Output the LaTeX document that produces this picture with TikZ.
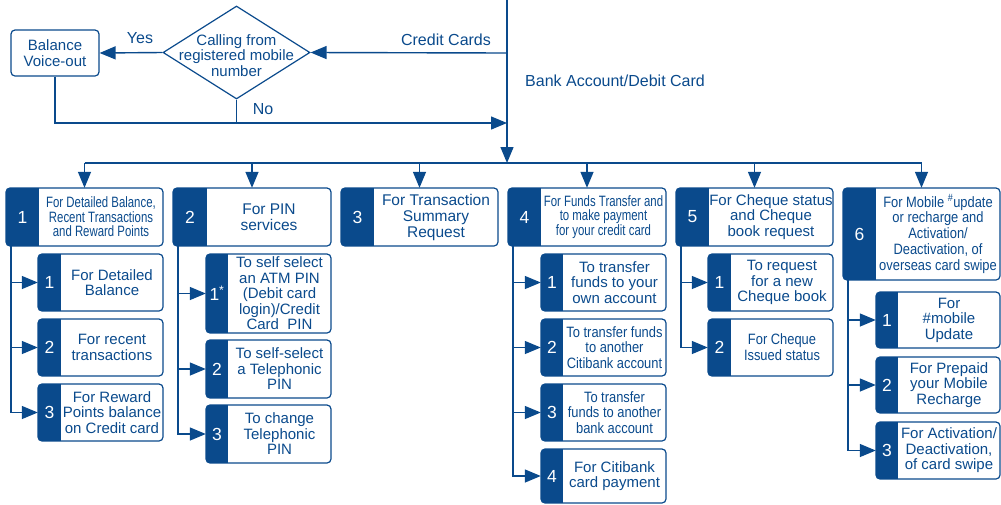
\documentclass[tikz,border=0pt]{standalone}
\usepackage{fontspec}
\setmainfont{Liberation Sans}
\newfontfamily\condA[FakeStretch=0.76]{Liberation Sans}
\newfontfamily\condB[FakeStretch=0.86]{Liberation Sans}
\usetikzlibrary{shapes.geometric,arrows.meta,fit,calc}
\definecolor{cblue}{RGB}{10,74,140}
\tikzset{
  conn/.style={draw=cblue, line width=1.4pt},
  arr/.style={conn, -{Triangle[length=16pt,width=13pt]}},
  numst/.style={text=white, font=\fontsize{17.5}{18}\selectfont, inner sep=0pt},
  txtst/.style={text=cblue, align=center, inner sep=0pt, font=\fontsize{15}{15.5}\selectfont},
  bigtxt/.style={font=\fontsize{15.5}{16}\selectfont},
  ctxtA/.style={font=\condA\fontsize{15}{14.5}\selectfont},
  ctxtB/.style={font=\condB\fontsize{15}{15.8}\selectfont},
  lbl/.style={text=cblue, inner sep=0pt, font=\fontsize{16}{18}\selectfont},
  plainbox/.style={draw=cblue, line width=1.2pt, rounded corners=4pt},
}
\newcommand\ivrbox[9]{%
  \node[fit={(#2,#3) (#4,#5)}, inner sep=0pt] (#1) {};
  \begin{scope}
    \clip[rounded corners=4pt] (#2,#3) rectangle (#4,#5);
    \fill[cblue] (#2,#3) rectangle (#6,#5);
  \end{scope}
  \draw[plainbox] (#2,#3) rectangle (#4,#5);
  \node[numst] (#1-n) at ({(#2+#6)/2},{(#3+#5)/2}) {#7};
  \node[txtst,#8] (#1-t) at ({(#6+#4)/2},{(#3+#5)/2}) {#9};
}
\begin{document}
\begin{tikzpicture}[x=1pt,y=-1pt]
\useasboundingbox (0,0) rectangle (1001,504);
% top flow
\coordinate (top) at (507,0);
\coordinate (cc) at (507,53);
\coordinate (mrg) at (507,123);
\coordinate (bus) at (507,163);
\node[diamond, draw=cblue, line width=1.2pt, minimum width=147pt, minimum height=93pt, inner sep=0pt] (dia) at (236.5,52.5) {};
\node[txtst, font=\fontsize{15}{15.5}\selectfont] (diat) at (236.5,55.5) {Calling from\\registered mobile\\number};
\node[plainbox, minimum width=88pt, minimum height=46pt, inner sep=0pt] (bv) at (55,53) {};
\node[txtst, font=\fontsize{15}{15.5}\selectfont] (bvt) at (55,53) {Balance\\Voice-out};
\draw[conn] (top) -- (cc);
\draw[arr] (cc) -- (dia.east);
\draw[arr] (dia.west) -- (bv.east);
\draw[arr] (bv.south) |- (mrg);
\draw[conn] (dia.south) -- (dia.south |- mrg);
\draw[arr] (cc) -- (bus);
\node[lbl] (yes) at (140,38) {Yes};
\node[lbl] (no) at (263,109) {No};
\node[lbl] (ccl) at (446,40) {Credit Cards};
\node[lbl, anchor=west] (bal) at (525,81) {Bank Account/Debit Card};

% main boxes
\ivrbox{b1}{6}{188}{163}{246}{39}{1}{ctxtA}{For Detailed Balance,\\Recent Transactions\\and Reward Points}
\ivrbox{b2}{173}{188}{331}{246}{207}{2}{bigtxt}{For PIN\\services}
\ivrbox{b3}{341}{188}{498}{246}{374}{3}{bigtxt}{For Transaction\\Summary\\Request}
\ivrbox{b4}{508}{188}{666}{246}{541}{4}{ctxtA}{For Funds Transfer and\\to make payment\\for your credit card}
\ivrbox{b5}{676}{188}{833}{246}{709}{5}{}{For Cheque status\\and Cheque\\book request}
\ivrbox{b6}{843}{188}{1000}{280}{876}{6}{ctxtB}{For Mobile \textsuperscript{\#}update\\or recharge and\\Activation/\\Deactivation, of\\overseas card swipe}

% bus
\draw[conn] (b1.north |- bus) -- (b6.north |- bus);
\foreach \b in {b1,b2,b3,b4,b5,b6}{\draw[arr] (\b.north |- bus) -- (\b.north);}

% sub boxes
\ivrbox{s11}{38}{254}{163}{311}{61}{1}{}{For Detailed\\Balance}
\ivrbox{s12}{38}{319}{163}{376}{61}{2}{}{For recent\\transactions}
\ivrbox{s13}{38}{384}{163}{441}{61}{3}{}{For Reward\\Points balance\\on Credit card}
\ivrbox{s21}{206}{254}{331}{333}{228}{1\textsuperscript{*}}{}{To self select\\an ATM PIN\\(Debit card\\login)/Credit\\Card~~PIN}
\ivrbox{s22}{206}{340}{331}{398}{228}{2}{}{To self-select\\a Telephonic\\PIN}
\ivrbox{s23}{206}{405}{331}{463}{228}{3}{}{To change\\Telephonic\\PIN}
\ivrbox{s41}{541}{254}{666}{311}{563}{1}{}{To transfer\\funds to your\\own account}
\ivrbox{s42}{541}{319}{666}{376}{563}{2}{ctxtB}{To transfer funds\\to another\\Citibank account}
\ivrbox{s43}{541}{384}{666}{441}{563}{3}{ctxtB}{To transfer\\funds to another\\bank account}
\ivrbox{s44}{541}{449}{666}{503}{563}{4}{}{For Citibank\\card payment}
\ivrbox{s51}{708}{254}{833}{311}{731}{1}{}{To request\\for a new\\Cheque book}
\ivrbox{s52}{708}{319}{833}{376}{731}{2}{ctxtB}{For Cheque\\Issued status}
\ivrbox{s61}{876}{292}{1000}{348}{898}{1}{}{For\\\#mobile\\Update}
\ivrbox{s62}{876}{357}{1000}{413}{898}{2}{}{For Prepaid\\your Mobile\\Recharge}
\ivrbox{s63}{876}{422}{1000}{479}{898}{3}{}{For Activation/\\Deactivation,\\of card swipe}

% branch connectors
\foreach \s in {s11,s12,s13}{\draw[arr] ($(b1.south west)+(5,0)$) |- (\s.west);}
\foreach \s in {s21,s22,s23}{\draw[arr] ($(b2.south west)+(5,0)$) |- (\s.west);}
\foreach \s in {s41,s42,s43,s44}{\draw[arr] ($(b4.south west)+(5,0)$) |- (\s.west);}
\foreach \s in {s51,s52}{\draw[arr] ($(b5.south west)+(5,0)$) |- (\s.west);}
\foreach \s in {s61,s62,s63}{\draw[arr] ($(b6.south west)+(5,0)$) |- (\s.west);}
\end{tikzpicture}
\end{document}
